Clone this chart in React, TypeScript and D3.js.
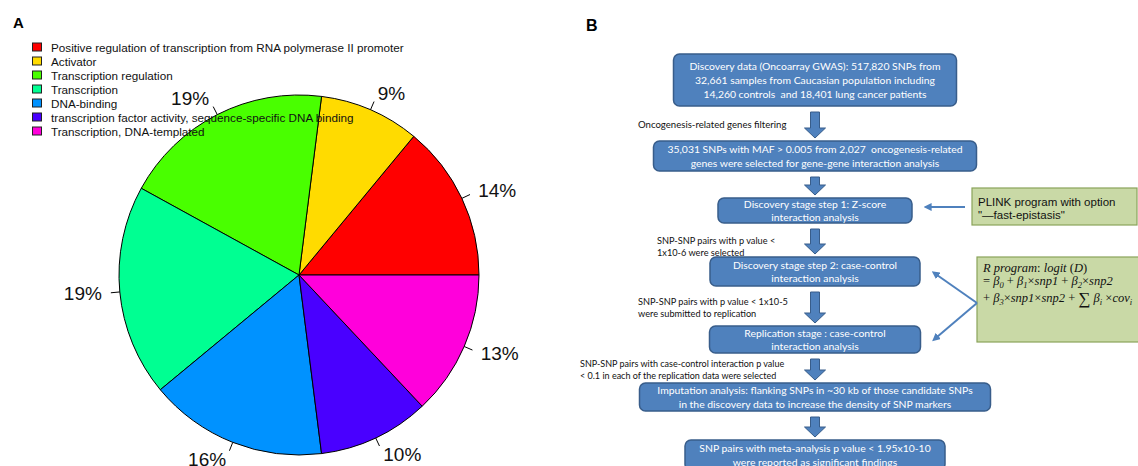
import React, { useEffect } from 'react';
import * as d3 from 'd3';

// Panel A: pie of GO categories
const categories = [
  'Positive regulation of transcription from RNA polymerase II promoter',
  'Activator',
  'Transcription regulation',
  'Transcription',
  'DNA-binding',
  'transcription factor activity, sequence-specific DNA binding',
  'Transcription, DNA-templated',
];
const shares = [14, 9, 19, 19, 16, 10, 13];
const sliceColors = ['#FF0000', '#FFDB00', '#49FF00', '#00FF92', '#0092FF', '#4900FF', '#FF00DB'];

// Panel B: flowchart texts
const stepTexts = [
  ['Discovery data (Oncoarray GWAS): 517,820 SNPs from', '32,661 samples from Caucasian population including', '14,260 controls  and 18,401 lung cancer patients'],
  ['35,031 SNPs with MAF > 0.005 from 2,027  oncogenesis-related', 'genes were selected for gene-gene interaction analysis'],
  ['Discovery stage step 1: Z-score', 'interaction analysis'],
  ['Discovery stage step 2: case-control', 'interaction analysis'],
  ['Replication stage : case-control', 'interaction analysis'],
  ['Imputation analysis: flanking SNPs in ~30 kb of those candidate SNPs', 'in the discovery data to increase the density of SNP markers'],
  ['SNP pairs with meta-analysis p value < 1.95x10-10', 'were reported as significant findings'],
];
const stepNotes = [
  ['Oncogenesis-related genes filtering'],
  [],
  ['SNP-SNP pairs with p value <', '1x10-6 were selected'],
  ['SNP-SNP pairs with p value < 1x10-5', 'were submitted to replication'],
  ['SNP-SNP pairs with case-control interaction p value', '< 0.1 in each of the replication data were selected'],
  [],
];
const plinkText = ['PLINK program with option', '"\u2014fast-epistasis"'];

// formula lines: [text, kind] where i = italic, n = upright, s = subscript, b = big operator
type Seg = [string, 'i' | 'n' | 's' | 'b'];
const formulaLines: Seg[][] = [
  [['R program', 'i'], [': ', 'n'], ['logit ', 'i'], ['(', 'n'], ['D', 'i'], [')', 'n']],
  [['= ', 'n'], ['β', 'i'], ['0', 's'], [' + ', 'n'], ['β', 'i'], ['1', 's'], ['×', 'n'], ['snp1', 'i'], [' + ', 'n'], ['β', 'i'], ['2', 's'], ['×', 'n'], ['snp2', 'i']],
  [['+ ', 'n'], ['β', 'i'], ['3', 's'], ['×', 'n'], ['snp1', 'i'], ['×', 'n'], ['snp2', 'i'], [' + ', 'n'], ['∑', 'b'], [' β', 'i'], ['i', 's'], [' ×', 'n'], ['cov', 'i'], ['i', 's']],
];

// layout of the flowchart (page pixels)
const flowX = 815;
const boxLayout = [
  { w: 283, y0: 54, y1: 106 },
  { w: 323, y0: 141, y1: 171 },
  { w: 194, y0: 198, y1: 223 },
  { w: 210, y0: 257, y1: 286 },
  { w: 211, y0: 326, y1: 353 },
  { w: 351, y0: 383, y1: 411 },
  { w: 260, y0: 440, y1: 470 },
];
const noteLayout = [
  { x: 638, y: 124, fs: 9.6 },
  { x: 0, y: 0, fs: 9 },
  { x: 657, y: 240, fs: 9.2 },
  { x: 638, y: 301, fs: 9.2 },
  { x: 580, y: 363, fs: 9 },
  { x: 0, y: 0, fs: 9 },
];
const formulaBaselines = [272, 285, 302];

const BLUE = '#4F81BD';
const BLUE_DARK = '#385D8A';
const boxFont = 'Lato, "Open Sans", sans-serif';

const offsetOf = (k: string) => (k === 's' ? 3 : k === 'b' ? 2 : 0);

const renderSegs = (segs: Seg[]) => {
  let prev = 0;
  return segs.map(([t, k], i) => {
    const off = offsetOf(k);
    const dy = off - prev;
    prev = off;
    return (
      <tspan
        key={i}
        dy={dy || undefined}
        fontStyle={k === 'i' || k === 's' ? 'italic' : 'normal'}
        fontSize={k === 's' ? 8.5 : k === 'b' ? 17 : undefined}
        style={{ whiteSpace: 'pre' }}
      >
        {t}
      </tspan>
    );
  });
};

const App: React.FC = () => {
  useEffect(() => {
    document.body.style.margin = '0';
  }, []);

  const cx = 299;
  const cy = 275;
  const r = 180;

  const pie = d3
    .pie<number>()
    .sort(null)
    .value(d => d)
    .startAngle(Math.PI / 2)
    .endAngle(Math.PI / 2 - 2 * Math.PI);
  const arcs = pie(shares);
  const arc = d3.arc<d3.PieArcDatum<number>>().innerRadius(0).outerRadius(r);

  const blockArrow = (x: number, y0: number, y1: number) => {
    const sw = 4.5;
    const hw = 10.5;
    const hl = 10;
    const p = d3.path();
    p.moveTo(x - sw, y0);
    p.lineTo(x + sw, y0);
    p.lineTo(x + sw, y1 - hl);
    p.lineTo(x + hw, y1 - hl);
    p.lineTo(x, y1);
    p.lineTo(x - hw, y1 - hl);
    p.lineTo(x - sw, y1 - hl);
    p.closePath();
    return p.toString();
  };

  return (
    <svg width={1138} height={466} style={{ display: 'block', background: '#fff' }}>
      <defs>
        <marker id="ah" viewBox="0 0 10 10" refX="2" refY="5" markerWidth="4" markerHeight="4" orient="auto-start-reverse">
          <path d="M0,0 L10,5 L0,10 z" fill={BLUE} />
        </marker>
      </defs>

      {/* Panel A */}
      <text x={13} y={28} fontFamily="Liberation Sans, Arial, sans-serif" fontWeight="bold" fontSize={15}>A</text>
      <g transform={`translate(${cx},${cy})`}>
        {arcs.map((a, i) => (
          <path key={i} d={arc(a) || ''} fill={sliceColors[i]} stroke="#000" strokeWidth={1} />
        ))}
        {arcs.map((a, i) => {
          const m = (a.startAngle + a.endAngle) / 2;
          const sx = Math.sin(m);
          const sy = -Math.cos(m);
          return (
            <g key={i}>
              <line x1={r * sx} y1={r * sy} x2={1.05 * r * sx} y2={1.05 * r * sy} stroke="#000" strokeWidth={1} />
              <text
                x={1.1 * r * sx}
                y={1.1 * r * sy}
                textAnchor={sx > 0 ? 'start' : 'end'}
                dominantBaseline="central"
                fontFamily="Liberation Sans, Arial, sans-serif"
                fontSize={19}
                fill="#111"
              >
                {`${shares[i]}%`}
              </text>
            </g>
          );
        })}
      </g>
      <g fontFamily="Liberation Sans, Arial, sans-serif" fontSize={11.7} fill="#111">
        {categories.map((c, i) => (
          <g key={i} transform={`translate(0,${47 + i * 14})`}>
            <rect x={32.5} y={-4} width={9} height={8} fill={sliceColors[i]} stroke="#222" strokeWidth={1} />
            <text x={51} y={0} dominantBaseline="central">{c}</text>
          </g>
        ))}
      </g>

      {/* Panel B */}
      <text x={586} y={31} fontFamily="Liberation Sans, Arial, sans-serif" fontWeight="bold" fontSize={16}>B</text>

      {boxLayout.map((b, i) => {
        const n = stepTexts[i].length;
        const h = b.y1 - b.y0;
        const lh = n === 3 ? 14 : 13.5;
        const mid = b.y0 + h / 2;
        return (
          <g key={i}>
            <rect x={flowX - b.w / 2} y={b.y0} width={b.w} height={h} rx={6} fill={BLUE} stroke={BLUE_DARK} strokeWidth={1.5} />
            {stepTexts[i].map((t, j) => (
              <text
                key={j}
                x={flowX}
                y={mid + (j - (n - 1) / 2) * lh}
                textAnchor="middle"
                dominantBaseline="central"
                fontFamily={boxFont}
                fontSize={10.4}
                fill="#fff"
                style={{ whiteSpace: 'pre' }}
              >
                {t}
              </text>
            ))}
          </g>
        );
      })}

      {boxLayout.slice(0, -1).map((b, i) => (
        <path
          key={i}
          d={blockArrow(flowX, b.y1 + 6, boxLayout[i + 1].y0 - 3)}
          fill={BLUE}
          stroke={BLUE_DARK}
          strokeWidth={1}
        />
      ))}

      {stepNotes.map((lines, i) =>
        lines.map((t, j) => (
          <text
            key={`${i}-${j}`}
            x={noteLayout[i].x}
            y={noteLayout[i].y + j * 12}
            dominantBaseline="central"
            fontFamily={boxFont}
            fontSize={noteLayout[i].fs}
            fill="#111"
          >
            {t}
          </text>
        ))
      )}

      {/* PLINK side box */}
      <rect x={972} y={188} width={165} height={37} fill="#C9D9A6" stroke="#8AA35A" strokeWidth={1.2} />
      {plinkText.map((t, j) => (
        <text key={j} x={978} y={202 + j * 13} dominantBaseline="central" fontFamily="Liberation Sans, Arial, sans-serif" fontSize={11.5} fill="#111">
          {t}
        </text>
      ))}
      <line x1={965} y1={207} x2={930} y2={207} stroke={BLUE} strokeWidth={2} markerEnd="url(#ah)" />

      {/* R program side box */}
      <rect x={977} y={257} width={170} height={85} fill="#C9D9A6" stroke="#8AA35A" strokeWidth={1.2} />
      <g fontFamily="Liberation Serif, 'DejaVu Serif', serif" fontSize={12.5} fill="#111">
        {formulaLines.map((segs, i) => (
          <text key={i} x={983} y={formulaBaselines[i]}>
            {renderSegs(segs)}
          </text>
        ))}
      </g>
      <line x1={977} y1={303} x2={937} y2={275} stroke={BLUE} strokeWidth={2} markerEnd="url(#ah)" />
      <line x1={977} y1={303} x2={937} y2={337} stroke={BLUE} strokeWidth={2} markerEnd="url(#ah)" />
    </svg>
  );
};

export default App;
